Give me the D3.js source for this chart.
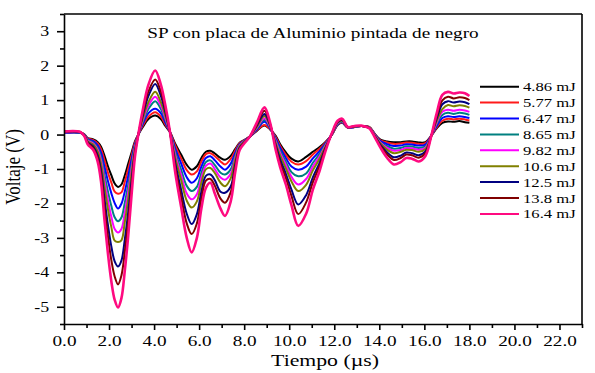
<!DOCTYPE html>
<html>
<head>
<meta charset="utf-8">
<script src="https://cdn.jsdelivr.net/npm/d3@7/dist/d3.min.js"></script>
<style>
  body { margin: 0; background: #fff; }
  text { font-family: "Liberation Serif", "Times New Roman", serif; fill: #000; }
</style>
</head>
<body>
<div class="chart"></div>
<script>
// time axis (µs)
const time = [0, 0.7, 0.9, 1.05, 1.3, 1.5, 1.65, 1.8, 1.95, 2.1,
  2.25, 2.4, 2.55, 2.7, 2.85, 3.0, 3.15, 3.3, 3.5, 3.75,
  4.05, 4.3, 4.5, 4.7, 4.95, 5.2, 5.45, 5.67, 5.9, 6.1,
  6.3, 6.5, 6.7, 6.95, 7.15, 7.4, 7.6, 7.8, 8.0, 8.25,
  8.55, 8.9, 9.15, 9.4, 9.6, 9.85, 10.1, 10.4, 10.75, 11.05,
  11.35, 11.6, 11.9, 12.15, 12.35, 12.6, 12.9, 13.2, 13.55, 13.8,
  14.05, 14.35, 14.65, 14.95, 15.2, 15.45, 15.75, 16.05, 16.3, 16.55,
  16.8, 17.05, 17.3, 17.55, 17.8, 18.0];

// voltage (V) per pulse energy
const e486 = [.06,.06,.01,-.10,-.14,-.22,-.36,-.62,-.92,-1.18,
  -1.42,-1.52,-1.45,-1.18,-.85,-.52,-.20,0,.22,.45,
  .55,.45,.25,.08,-.28,-.58,-.88,-1.02,-.92,-.68,
  -.50,-.47,-.55,-.68,-.73,-.62,-.42,-.24,-.16,-.06,
  .10,.26,.15,-.04,-.28,-.52,-.70,-.78,-.65,-.50,
  -.36,-.22,0,.28,.34,.20,.22,.25,.22,.02,
  -.15,-.20,-.22,-.22,-.20,-.20,-.23,-.22,-.04,.18,
  .34,.38,.37,.39,.36,.34];
const e577 = [.06,.06,.01,-.11,-.16,-.26,-.43,-.75,-1.10,-1.39,
  -1.66,-1.72,-1.68,-1.37,-1.00,-.61,-.23,0,.26,.52,
  .65,.52,.29,.08,-.34,-.69,-1.03,-1.16,-1.07,-.78,
  -.57,-.54,-.63,-.78,-.87,-.71,-.47,-.25,-.17,-.06,
  .12,.28,.16,-.07,-.33,-.59,-.79,-.87,-.77,-.58,
  -.41,-.24,0,.29,.35,.20,.22,.25,.22,.01,
  -.17,-.23,-.27,-.26,-.23,-.24,-.27,-.25,-.04,.21,
  .40,.46,.44,.46,.44,.41];
const e647 = [.05,.05,0,-.13,-.19,-.32,-.54,-.94,-1.35,-1.70,
  -1.99,-2.15,-2.01,-1.65,-1.21,-.73,-.28,0,.31,.62,
  .75,.62,.35,.08,-.43,-.84,-1.24,-1.40,-1.27,-.93,
  -.68,-.63,-.75,-.93,-1.02,-.85,-.54,-.28,-.18,-.06,
  .14,.37,.18,-.11,-.39,-.68,-.93,-1.02,-.93,-.69,
  -.48,-.27,.01,.30,.36,.20,.22,.25,.21,0,
  -.19,-.28,-.33,-.32,-.28,-.29,-.32,-.29,-.04,.25,
  .48,.53,.51,.53,.51,.48];
const e865 = [.07,.06,0,-.15,-.23,-.39,-.66,-1.17,-1.65,-2.07,
  -2.40,-2.52,-2.41,-1.98,-1.46,-.88,-.33,0,.37,.74,
  .97,.74,.42,.08,-.53,-1.02,-1.49,-1.64,-1.52,-1.11,
  -.80,-.75,-.89,-1.11,-1.16,-1.01,-.62,-.30,-.19,-.06,
  .17,.42,.21,-.16,-.47,-.79,-1.09,-1.21,-1.13,-.82,
  -.56,-.30,.01,.31,.37,.21,.23,.25,.21,-.01,
  -.22,-.34,-.41,-.39,-.34,-.35,-.39,-.34,-.05,.31,
  .57,.63,.60,.63,.61,.57];
const e982 = [.07,.07,-.01,-.17,-.26,-.45,-.77,-1.35,-1.91,-2.38,
  -2.74,-2.84,-2.74,-2.26,-1.67,-1.00,-.38,0,.42,.84,
  1.10,.84,.48,.08,-.62,-1.17,-1.71,-1.88,-1.73,-1.25,
  -.91,-.84,-1.01,-1.25,-1.31,-1.14,-.69,-.32,-.20,-.06,
  .19,.47,.23,-.20,-.54,-.88,-1.23,-1.45,-1.29,-.93,
  -.63,-.33,.02,.33,.39,.21,.23,.25,.20,-.02,
  -.24,-.39,-.47,-.45,-.39,-.40,-.44,-.38,-.05,.35,
  .66,.72,.69,.72,.70,.66];
const e106 = [.08,.07,-.01,-.19,-.29,-.50,-.87,-1.54,-2.16,-2.68,
  -3.08,-3.12,-3.07,-2.54,-1.88,-1.12,-.42,0,.47,.94,
  1.24,.94,.54,.08,-.71,-1.32,-1.92,-2.12,-1.94,-1.40,
  -1.01,-.97,-1.12,-1.40,-1.50,-1.27,-.75,-.34,-.21,-.06,
  .21,.54,.25,-.24,-.61,-.98,-1.36,-1.64,-1.46,-1.04,
  -.70,-.36,.02,.34,.40,.21,.23,.25,.20,-.03,
  -.26,-.44,-.54,-.50,-.44,-.45,-.50,-.42,-.05,.40,
  .74,.86,.82,.85,.83,.78];
const e125 = [.08,.07,-.02,-.22,-.35,-.61,-1.06,-1.88,-2.62,-3.24,
  -3.68,-3.83,-3.66,-3.04,-2.26,-1.34,-.50,0,.56,1.12,
  1.47,1.12,.65,.08,-.86,-1.60,-2.30,-2.60,-2.31,-1.66,
  -1.20,-1.16,-1.33,-1.66,-1.69,-1.51,-.88,-.38,-.23,-.06,
  .25,.60,.28,-.31,-.73,-1.14,-1.60,-2.03,-1.76,-1.24,
  -.82,-.41,.03,.36,.42,.21,.24,.25,.19,-.05,
  -.30,-.52,-.66,-.61,-.52,-.54,-.60,-.49,-.05,.47,
  .88,.97,.93,.96,.94,.88];
const e138 = [.09,.08,-.03,-.24,-.39,-.68,-1.19,-2.12,-2.94,-3.64,
  -4.12,-4.35,-4.09,-3.40,-2.53,-1.50,-.56,0,.62,1.25,
  1.60,1.25,.73,.09,-.98,-1.80,-2.58,-2.89,-2.58,-1.86,
  -1.34,-1.29,-1.49,-1.86,-1.98,-1.68,-.96,-.41,-.24,-.06,
  .28,.69,.31,-.37,-.82,-1.26,-1.78,-2.31,-1.97,-1.38,
  -.91,-.44,.04,.38,.44,.22,.24,.25,.19,-.06,
  -.33,-.58,-.74,-.68,-.58,-.60,-.67,-.54,-.06,.53,
  .99,1.10,1.05,1.08,1.06,1.00];
const e164 = [.09,.08,-.04,-.28,-.45,-.80,-1.40,-2.50,-3.45,-4.25,
  -4.80,-5.02,-4.75,-3.95,-2.95,-1.75,-.65,0,.72,1.45,
  1.86,1.45,.85,.10,-1.15,-2.10,-3.00,-3.42,-3.00,-2.15,
  -1.55,-1.40,-1.72,-2.15,-2.36,-1.95,-1.10,-.45,-.26,-.06,
  .33,.79,.35,-.45,-.95,-1.45,-2.05,-2.65,-2.30,-1.60,
  -1.05,-.50,.05,.40,.46,.22,.25,.26,.18,-.08,
  -.38,-.68,-.87,-.80,-.68,-.70,-.78,-.62,-.06,.62,
  1.15,1.24,1.19,1.22,1.20,1.12];

const energies = ["4.86 mJ", "5.77 mJ", "6.47 mJ", "8.65 mJ", "9.82 mJ", "10.6 mJ", "12.5 mJ", "13.8 mJ", "16.4 mJ"];
const series = [e486, e577, e647, e865, e982, e106, e125, e138, e164];
const colors = ["#000000", "#ff1a1a", "#0000ff", "#008080", "#ff00ff", "#808000", "#000080", "#800000", "#ff0a80"];

const xTicks = d3.range(0, 23, 2);
const yTicks = d3.range(-5, 4, 1);

const title = "SP con placa de Aluminio pintada de negro";
const xTitle = "Tiempo (\u00b5s)";
const yTitle = "Voltaje (V)";

// the picture is stretched sideways, so is the text
const stretch = "scale(1.28,1)";

let width = 595, height = 373;
let margin = {top: 14, right: 13, bottom: 49, left: 64};
let insideWidth = width - margin.left - margin.right;
let insideHeight = height - margin.top - margin.bottom;

let svg = d3.select(".chart").append("svg")
  .attr("width", width)
  .attr("height", height);
svg.append("rect").attr("width", width).attr("height", height).attr("fill", "#fff");

let g = svg.append("g").attr("transform", "translate(" + margin.left + "," + margin.top + ")");

//set scales
let xScale = d3.scaleLinear().domain([0, 23]).range([0, insideWidth]);
let yScale = d3.scaleLinear().domain([-5.5, 3.5]).range([insideHeight, 0]);

//draw series
let line = d3.line()
  .x(function(d, i) { return xScale(time[i]); })
  .y(function(d) { return yScale(d); })
  .curve(d3.curveCatmullRom.alpha(0.5));

series.forEach(function(values, k) {
  g.append("path")
    .datum(values)
    .attr("fill", "none")
    .attr("stroke", colors[k])
    .attr("stroke-width", k == 8 ? 2.6 : 2)
    .attr("stroke-linejoin", "round")
    .attr("d", line);
});

//frame top and right
g.append("line").attr("x1", 0).attr("x2", insideWidth).attr("y1", 0).attr("y2", 0)
  .attr("stroke", "#000").attr("stroke-width", 1.6);
g.append("line").attr("x1", insideWidth).attr("x2", insideWidth).attr("y1", 0).attr("y2", insideHeight)
  .attr("stroke", "#000").attr("stroke-width", 1.6);

//x-axis, minor then major
g.append("g")
  .attr("transform", "translate(0," + insideHeight + ")")
  .call(d3.axisBottom(xScale).tickValues(d3.range(1, 24, 2)).tickSize(4).tickSizeOuter(0).tickFormat(""))
  .call(a => a.select(".domain").remove());
let xAxis = g.append("g")
  .attr("transform", "translate(0," + insideHeight + ")")
  .call(d3.axisBottom(xScale).tickValues(xTicks).tickSize(6).tickSizeOuter(0).tickFormat(d3.format(".1f")));
xAxis.selectAll("text")
  .attr("y", 22).attr("dy", null)
  .attr("transform", stretch)
  .style("font-size", "15px");

//y-axis, minor then major
g.append("g")
  .call(d3.axisLeft(yScale).tickValues(d3.range(-5.5, 3.6, 1)).tickSize(4).tickSizeOuter(0).tickFormat(""))
  .call(a => a.select(".domain").remove());
let yAxis = g.append("g")
  .call(d3.axisLeft(yScale).tickValues(yTicks).tickSize(7).tickSizeOuter(0).tickFormat(d => String(d)));
yAxis.selectAll("text")
  .attr("x", -11.5)
  .attr("transform", stretch)
  .style("font-size", "14px");

g.selectAll(".domain, .tick line").attr("stroke", "#000").attr("stroke-width", 1.6);
g.selectAll(".tick text").attr("fill", "#000").style("font-family", "'Liberation Serif', serif");

//labels
svg.append("text")
  .attr("transform", "translate(313,38) " + stretch)
  .attr("text-anchor", "middle")
  .style("font-size", "15px")
  .text(title);

svg.append("text")
  .attr("transform", "translate(325,366) " + stretch)
  .attr("text-anchor", "middle")
  .style("font-size", "17px")
  .text(xTitle);

svg.append("text")
  .attr("transform", "translate(19.5,167) " + stretch + " rotate(-90)")
  .attr("text-anchor", "middle")
  .style("font-size", "17px")
  .text(yTitle);

//legend
let legend = svg.append("g");
energies.forEach(function(name, k) {
  let y = 86.7 + k * 15.9;
  legend.append("line")
    .attr("x1", 480).attr("x2", 519).attr("y1", y).attr("y2", y)
    .attr("stroke", colors[k]).attr("stroke-width", 2);
  legend.append("text")
    .attr("transform", "translate(523," + (y + 4.5) + ") " + stretch)
    .style("font-size", "13px")
    .text(name);
});
</script>
</body>
</html>
